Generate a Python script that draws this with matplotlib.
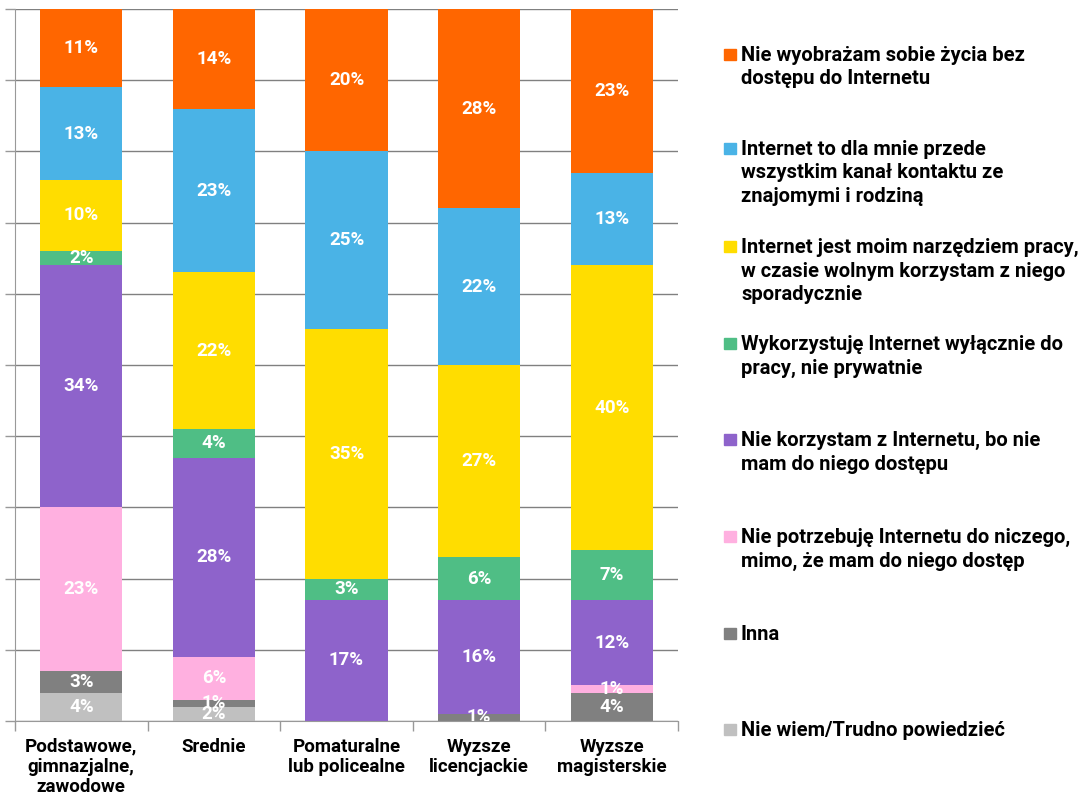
import numpy as np
import matplotlib
matplotlib.use("Agg")
import matplotlib.pyplot as plt
from matplotlib.patches import Rectangle

plt.rcParams['font.family'] = ['Roboto', 'DejaVu Sans']
plt.rcParams['font.weight'] = 'bold'

categories = ["Podstawowe,\ngimnazjalne,\nzawodowe", "Srednie",
              "Pomaturalne\nlub policealne", "Wyzsze\nlicencjackie",
              "Wyzsze\nmagisterskie"]

# stacked bottom -> top
series_labels = [
    "Nie wiem/Trudno powiedzieć",
    "Inna",
    "Nie potrzebuję Internetu do niczego,\nmimo, że mam do niego dostęp",
    "Nie korzystam z Internetu, bo nie\nmam do niego dostępu",
    "Wykorzystuję Internet wyłącznie do\npracy, nie prywatnie",
    "Internet jest moim narzędziem pracy,\nw czasie wolnym korzystam z niego\nsporadycznie",
    "Internet to dla mnie przede\nwszystkim kanał kontaktu ze\nznajomymi i rodziną",
    "Nie wyobrażam sobie życia bez\ndostępu do Internetu",
]
nie_wiem = [4, 2, 0, 0, 0]
inna = [3, 1, 0, 1, 4]
nie_potrzebuje = [23, 6, 0, 0, 1]
brak_dostepu = [34, 28, 17, 16, 12]
tylko_praca = [2, 4, 3, 6, 7]
narzedzie_pracy = [10, 22, 35, 27, 40]
kontakt = [13, 23, 25, 22, 13]
nie_wyobrazam = [11, 14, 20, 28, 23]

series = [nie_wiem, inna, nie_potrzebuje, brak_dostepu, tylko_praca,
          narzedzie_pracy, kontakt, nie_wyobrazam]
colors = ["#C0C0C0", "#808080", "#FFB0E0", "#8E63CB", "#4FBE85",
          "#FFDD00", "#4AB3E6", "#FF6600"]

fig = plt.figure(figsize=(10.8, 7.99), dpi=100)
ax = fig.add_axes([15 / 1080, 1 - 721 / 799, 663 / 1080, 712 / 799])

x = np.arange(len(categories))
bottom = np.zeros(len(categories))
for vals, col in zip(series, colors):
    vals = np.array(vals, dtype=float)
    ax.bar(x, vals, 0.62, bottom=bottom, color=col, zorder=2)
    for xi, v, b in zip(x, vals, bottom):
        if v > 0:
            ax.text(xi, b + v / 2, f"{int(v)}%", ha="center", va="center",
                    color="white", fontsize=13.5, fontweight="bold",
                    zorder=3, clip_on=True)
    bottom += vals

ax.set_xlim(-0.5, len(categories) - 0.5)
ax.set_ylim(0, 100)
ax.set_yticks(np.arange(0, 101, 10))
ax.set_yticklabels([])
ax.yaxis.grid(True, color="#808080", linewidth=1, zorder=0)
ax.tick_params(axis="y", length=7, color="#999999", width=1)
ax.set_xticks(x)
ax.set_xticklabels(categories, fontsize=13.5, fontweight="bold", linespacing=1.15)
ax.tick_params(axis="x", length=0, pad=12)
ax.set_xticks(np.arange(-0.5, len(categories), 1), minor=True)
ax.tick_params(axis="x", which="minor", length=7, color="#999999", width=1)
for s in ["top", "right"]:
    ax.spines[s].set_visible(False)
ax.spines["left"].set_color("#999999")
ax.spines["bottom"].set_color("#999999")
ax.set_axisbelow(True)

# legend, top entry first
legend_y = [54, 148, 246, 343, 439, 536, 633, 729]
for yy, lab, col in zip(legend_y, series_labels[::-1], colors[::-1]):
    fy = 1 - yy / 799
    fig.patches.append(Rectangle((724 / 1080, fy - 5.5 / 799), 12 / 1080, 11 / 799,
                                 transform=fig.transFigure, color=col))
    fig.text(741 / 1080, fy + 8 / 799, lab, ha="left", va="top", fontsize=14.5,
             fontweight="bold", linespacing=1.3, color="black")

fig.savefig("out.png", dpi=100)
